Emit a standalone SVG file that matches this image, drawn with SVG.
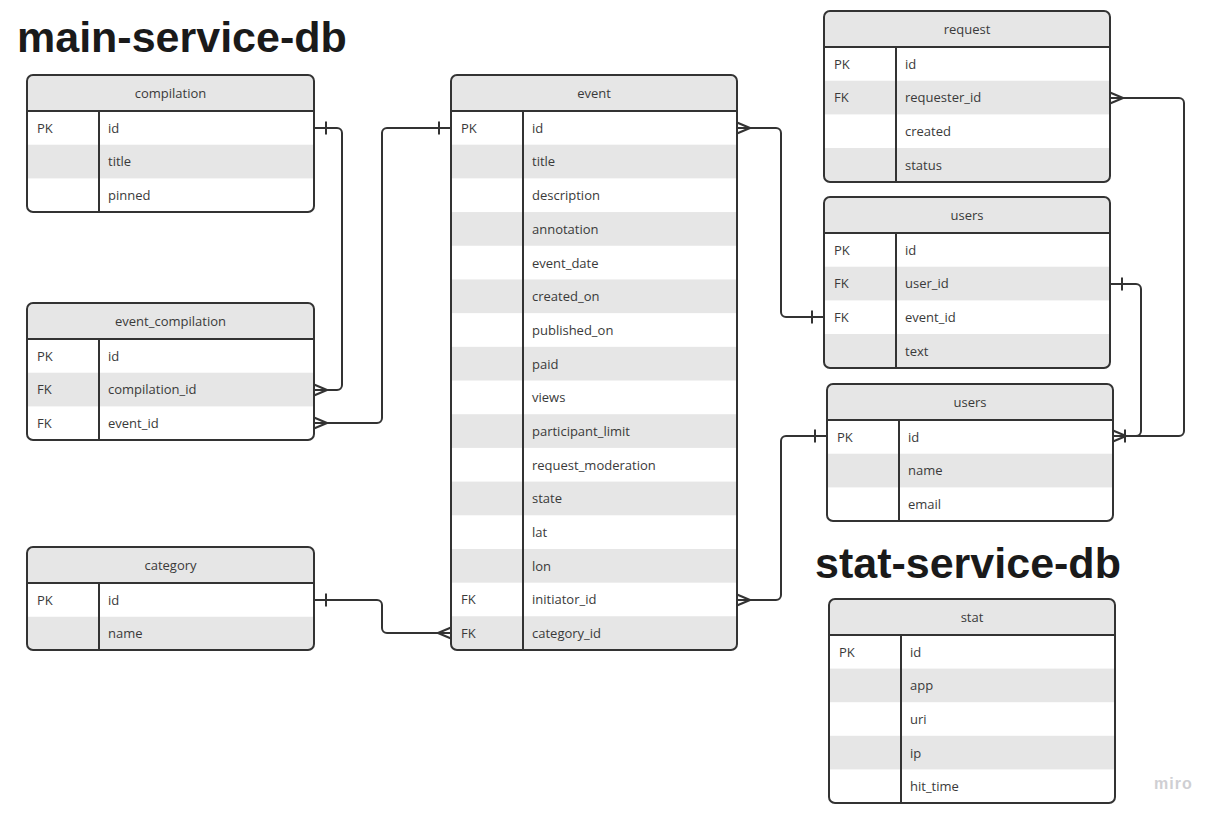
<svg xmlns="http://www.w3.org/2000/svg" width="1222" height="818" viewBox="0 0 1222 818">
<style>
.t{font-family:"Open Sans","Liberation Sans",sans-serif;font-size:13px;fill:#3a3a3a}
.c{text-anchor:middle}
.hdr,.st{fill:#e6e6e6;stroke:none}
.ln{fill:none;stroke:#333;stroke-width:2}
.box{fill:none;stroke:#333;stroke-width:2}
.bg{fill:#fff;stroke:none}
.title{font-family:"Liberation Sans",Arial,sans-serif;font-weight:bold;font-size:43px;fill:#1a1a1a}
.conn{fill:none;stroke:#333;stroke-width:2}
.logo{font-family:"Liberation Sans",Arial,sans-serif;font-weight:bold;font-size:16px;fill:#cfcfd3;letter-spacing:1px}
</style>
<defs>
<marker id="many" markerUnits="userSpaceOnUse" viewBox="-16 -8 18 16" refX="0" refY="0" markerWidth="18" markerHeight="16" orient="auto-start-reverse" overflow="visible">
<path d="M-13 0 L0 -5.5 M-13 0 L0 5.5" fill="none" stroke="#333" stroke-width="2"/>
</marker>
<marker id="one" markerUnits="userSpaceOnUse" viewBox="-16 -8 18 16" refX="0" refY="0" markerWidth="18" markerHeight="16" orient="auto-start-reverse" overflow="visible">
<path d="M-12 -6.5 V6.5" fill="none" stroke="#333" stroke-width="2"/>
</marker>
</defs>
<rect width="1222" height="818" fill="#fff"/>

<text class="title" x="17" y="52">main-service-db</text>
<text class="title" x="815" y="578">stat-service-db</text>

<g id="connectors">
<path class="conn" marker-start="url(#one)" marker-end="url(#many)" d="M314 128 H337 A5 5 0 0 1 342 133 V385 A5 5 0 0 1 337 390 H314"/>
<path class="conn" marker-start="url(#one)" marker-end="url(#many)" d="M451 128 H387 A5 5 0 0 0 382 133 V418 A5 5 0 0 1 377 423 H314"/>
<path class="conn" marker-start="url(#one)" marker-end="url(#many)" d="M314 600 H377 A5 5 0 0 1 382 605 V628 A5 5 0 0 0 387 633 H451"/>
<path class="conn" marker-start="url(#many)" marker-end="url(#one)" d="M737 128 H776 A5 5 0 0 1 781 133 V312 A5 5 0 0 0 786 317 H824"/>
<path class="conn" marker-start="url(#many)" marker-end="url(#one)" d="M737 600 H776 A5 5 0 0 0 781 595 V441 A5 5 0 0 1 786 436 H827"/>
<path class="conn" marker-start="url(#many)" marker-end="url(#one)" d="M1110 98 H1179 A5 5 0 0 1 1184 103 V431 A5 5 0 0 1 1179 436 H1113"/>
<path class="conn" marker-start="url(#one)" marker-end="url(#many)" d="M1110 284 H1136 A5 5 0 0 1 1141 289 V431 A5 5 0 0 1 1136 436 H1113"/>
</g>

<g id="compilation">
<rect class="bg" x="27" y="75" width="287" height="137" rx="6"/>
<path class="hdr" d="M27 111 V81 A6 6 0 0 1 33 75 H308 A6 6 0 0 1 314 81 V111 Z"/>
<rect class="st" x="27" y="144.7" width="287" height="33.7"/>
<path class="ln" d="M27 111 H314 M99 111 V212"/>
<rect class="box" x="27" y="75" width="287" height="137" rx="6"/>
<text class="t c" x="170.5" y="97.5">compilation</text>
<text class="t" x="37" y="132.7">PK</text><text class="t" x="108" y="132.7">id</text>
<text class="t" x="108" y="166.4">title</text>
<text class="t" x="108" y="200.1">pinned</text>
</g>

<g id="event_compilation">
<rect class="bg" x="27" y="303" width="287" height="137" rx="6"/>
<path class="hdr" d="M27 339 V309 A6 6 0 0 1 33 303 H308 A6 6 0 0 1 314 309 V339 Z"/>
<rect class="st" x="27" y="372.7" width="287" height="33.7"/>
<path class="ln" d="M27 339 H314 M99 339 V440"/>
<rect class="box" x="27" y="303" width="287" height="137" rx="6"/>
<text class="t c" x="170.5" y="325.5">event_compilation</text>
<text class="t" x="37" y="360.7">PK</text><text class="t" x="108" y="360.7">id</text>
<text class="t" x="37" y="394.4">FK</text><text class="t" x="108" y="394.4">compilation_id</text>
<text class="t" x="37" y="428.1">FK</text><text class="t" x="108" y="428.1">event_id</text>
</g>

<g id="category">
<rect class="bg" x="27" y="547" width="287" height="103" rx="6"/>
<path class="hdr" d="M27 583 V553 A6 6 0 0 1 33 547 H308 A6 6 0 0 1 314 553 V583 Z"/>
<path class="st" d="M27 616.7 H314 V644 A6 6 0 0 1 308 650 H33 A6 6 0 0 1 27 644 Z"/>
<path class="ln" d="M27 583 H314 M99 583 V650"/>
<rect class="box" x="27" y="547" width="287" height="103" rx="6"/>
<text class="t c" x="170.5" y="569.5">category</text>
<text class="t" x="37" y="604.7">PK</text><text class="t" x="108" y="604.7">id</text>
<text class="t" x="108" y="638.4">name</text>
</g>

<g id="event">
<rect class="bg" x="451" y="75" width="286" height="575" rx="6"/>
<path class="hdr" d="M451 111 V81 A6 6 0 0 1 457 75 H731 A6 6 0 0 1 737 81 V111 Z"/>
<rect class="st" x="451" y="144.69" width="286" height="33.69"/>
<rect class="st" x="451" y="212.07" width="286" height="33.69"/>
<rect class="st" x="451" y="279.45" width="286" height="33.69"/>
<rect class="st" x="451" y="346.83" width="286" height="33.69"/>
<rect class="st" x="451" y="414.21" width="286" height="33.69"/>
<rect class="st" x="451" y="481.59" width="286" height="33.69"/>
<rect class="st" x="451" y="548.97" width="286" height="33.69"/>
<path class="st" d="M451 616.35 H737 V644 A6 6 0 0 1 731 650 H457 A6 6 0 0 1 451 644 Z"/>
<path class="ln" d="M451 111 H737 M523 111 V650"/>
<rect class="box" x="451" y="75" width="286" height="575" rx="6"/>
<text class="t c" x="594" y="97.5">event</text>
<text class="t" x="461" y="132.7">PK</text><text class="t" x="532" y="132.7">id</text>
<text class="t" x="532" y="166.4">title</text>
<text class="t" x="532" y="200.1">description</text>
<text class="t" x="532" y="233.8">annotation</text>
<text class="t" x="532" y="267.5">event_date</text>
<text class="t" x="532" y="301.2">created_on</text>
<text class="t" x="532" y="334.8">published_on</text>
<text class="t" x="532" y="368.5">paid</text>
<text class="t" x="532" y="402.2">views</text>
<text class="t" x="532" y="435.9">participant_limit</text>
<text class="t" x="532" y="469.6">request_moderation</text>
<text class="t" x="532" y="503.3">state</text>
<text class="t" x="532" y="537">lat</text>
<text class="t" x="532" y="570.7">lon</text>
<text class="t" x="461" y="604.4">FK</text><text class="t" x="532" y="604.4">initiator_id</text>
<text class="t" x="461" y="638">FK</text><text class="t" x="532" y="638">category_id</text>
</g>

<g id="request">
<rect class="bg" x="824" y="11" width="286" height="171" rx="6"/>
<path class="hdr" d="M824 47 V17 A6 6 0 0 1 830 11 H1104 A6 6 0 0 1 1110 17 V47 Z"/>
<rect class="st" x="824" y="80.7" width="286" height="33.7"/>
<path class="st" d="M824 148.1 H1110 V176 A6 6 0 0 1 1104 182 H830 A6 6 0 0 1 824 176 Z"/>
<path class="ln" d="M824 47 H1110 M896 47 V182"/>
<rect class="box" x="824" y="11" width="286" height="171" rx="6"/>
<text class="t c" x="967" y="33.5">request</text>
<text class="t" x="834" y="68.7">PK</text><text class="t" x="905" y="68.7">id</text>
<text class="t" x="834" y="102.4">FK</text><text class="t" x="905" y="102.4">requester_id</text>
<text class="t" x="905" y="136.1">created</text>
<text class="t" x="905" y="169.8">status</text>
</g>

<g id="users_comments">
<rect class="bg" x="824" y="197" width="286" height="171" rx="6"/>
<path class="hdr" d="M824 233 V203 A6 6 0 0 1 830 197 H1104 A6 6 0 0 1 1110 203 V233 Z"/>
<rect class="st" x="824" y="266.7" width="286" height="33.7"/>
<path class="st" d="M824 334.1 H1110 V362 A6 6 0 0 1 1104 368 H830 A6 6 0 0 1 824 362 Z"/>
<path class="ln" d="M824 233 H1110 M896 233 V368"/>
<rect class="box" x="824" y="197" width="286" height="171" rx="6"/>
<text class="t c" x="967" y="219.5">users</text>
<text class="t" x="834" y="254.7">PK</text><text class="t" x="905" y="254.7">id</text>
<text class="t" x="834" y="288.4">FK</text><text class="t" x="905" y="288.4">user_id</text>
<text class="t" x="834" y="322.1">FK</text><text class="t" x="905" y="322.1">event_id</text>
<text class="t" x="905" y="355.8">text</text>
</g>

<g id="users">
<rect class="bg" x="827" y="384" width="286" height="137" rx="6"/>
<path class="hdr" d="M827 420 V390 A6 6 0 0 1 833 384 H1107 A6 6 0 0 1 1113 390 V420 Z"/>
<rect class="st" x="827" y="453.7" width="286" height="33.7"/>
<path class="ln" d="M827 420 H1113 M899 420 V521"/>
<rect class="box" x="827" y="384" width="286" height="137" rx="6"/>
<text class="t c" x="970" y="406.5">users</text>
<text class="t" x="837" y="441.7">PK</text><text class="t" x="908" y="441.7">id</text>
<text class="t" x="908" y="475.4">name</text>
<text class="t" x="908" y="509.1">email</text>
</g>

<g id="stat">
<rect class="bg" x="829" y="599" width="286" height="204" rx="6"/>
<path class="hdr" d="M829 635 V605 A6 6 0 0 1 835 599 H1109 A6 6 0 0 1 1115 605 V635 Z"/>
<rect class="st" x="829" y="668.6" width="286" height="33.6"/>
<rect class="st" x="829" y="735.8" width="286" height="33.6"/>
<path class="ln" d="M829 635 H1115 M901 635 V803"/>
<rect class="box" x="829" y="599" width="286" height="204" rx="6"/>
<text class="t c" x="972" y="621.5">stat</text>
<text class="t" x="839" y="656.7">PK</text><text class="t" x="910" y="656.7">id</text>
<text class="t" x="910" y="690.3">app</text>
<text class="t" x="910" y="723.9">uri</text>
<text class="t" x="910" y="757.5">ip</text>
<text class="t" x="910" y="791.1">hit_time</text>
</g>

<text class="logo" x="1154" y="789">miro</text>
</svg>
